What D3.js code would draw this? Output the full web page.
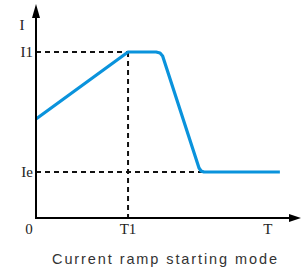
<!DOCTYPE html>
<html>
<head>
<meta charset="utf-8">
<script src="https://cdn.jsdelivr.net/npm/d3@7"></script>
<style>
  body { margin: 0; background: #fff; }
  .lbl { font-family: "Liberation Serif", "DejaVu Serif", serif; font-size: 15px; fill: #222; }
  .title { font-family: "Liberation Sans", Arial, sans-serif; font-size: 14.5px; fill: #333; }
</style>
</head>
<body>
<div id="chart"></div>
<script>
// current profile (time, current), arbitrary units
var time    = [0, 35.4, 46.2, 47.7, 48.7, 62.7, 63.5, 64.6, 93.8];
var current = [59.6, 100, 100, 99.4, 97.6, 30.1, 28.3, 27.7, 27.7];

var xTickLabels = ["0", "T1", "T"];
var xTickValues = [0, 35.4, 89.2];
var yTickLabels = ["Ie", "I1"];
var yTickValues = [27.7, 100];
var yAxisName = "I";
var T1 = 35.4, I1 = 100, Ie = 27.7, IeEnd = 71.5;
var title = "Current ramp starting mode";

var W = 302, H = 271;
var margin = {top: 4, right: 1, bottom: 53, left: 36};

var x = d3.scaleLinear().domain([0, 100]).range([margin.left, margin.left + 260]);
var y = d3.scaleLinear().domain([0, 100]).range([218, 52]);

var svg = d3.select("#chart").append("svg")
  .attr("width", W)
  .attr("height", H);

// dashed guide lines
var guides = [
  [[0, I1], [T1, I1]],
  [[T1, I1], [T1, 0]],
  [[0, Ie], [IeEnd, Ie]]
];
svg.selectAll(".guide")
  .data(guides)
  .enter()
  .append("line")
  .attr("class", "guide")
  .attr("x1", function(d) { return x(d[0][0]); })
  .attr("y1", function(d) { return y(d[0][1]); })
  .attr("x2", function(d) { return x(d[1][0]); })
  .attr("y2", function(d) { return y(d[1][1]); })
  .attr("stroke", "#111")
  .attr("stroke-width", 2)
  .attr("stroke-dasharray", "5,4");

// current curve
var line = d3.line()
  .x(function(d, i) { return x(time[i]); })
  .y(function(d, i) { return y(current[i]); });

svg.append("path")
  .datum(time)
  .attr("fill", "none")
  .attr("stroke", "#0a93dc")
  .attr("stroke-width", 3.2)
  .attr("stroke-linejoin", "round")
  .attr("d", line);

// axes
var x0 = x(0), y0 = y(0);
svg.append("line")
  .attr("x1", x0).attr("y1", y0 + 1)
  .attr("x2", x0).attr("y2", 14)
  .attr("stroke", "#000").attr("stroke-width", 2);
svg.append("line")
  .attr("x1", x0 - 1).attr("y1", y0)
  .attr("x2", 292).attr("y2", y0)
  .attr("stroke", "#000").attr("stroke-width", 2);

// arrow heads
svg.append("path")
  .attr("d", "M" + x0 + ",4 L" + (x0 - 4) + ",18 L" + (x0 + 4) + ",18 Z")
  .attr("fill", "#000");
svg.append("path")
  .attr("d", "M301," + y0 + " L289," + (y0 - 4) + " L289," + (y0 + 4) + " Z")
  .attr("fill", "#000");

// tick labels
svg.selectAll(".xt")
  .data(xTickLabels)
  .enter()
  .append("text")
  .attr("class", "lbl")
  .attr("x", function(d, i) { return x(xTickValues[i]) - (i == 0 ? 7 : 0); })
  .attr("y", 234)
  .attr("text-anchor", "middle")
  .text(function(d) { return d; });

svg.selectAll(".yt")
  .data(yTickLabels)
  .enter()
  .append("text")
  .attr("class", "lbl")
  .attr("x", 33)
  .attr("y", function(d, i) { return y(yTickValues[i]) + 5; })
  .attr("text-anchor", "end")
  .text(function(d) { return d; });

svg.append("text")
  .attr("class", "lbl")
  .attr("x", 22)
  .attr("y", 30)
  .attr("text-anchor", "middle")
  .text(yAxisName);

svg.append("text")
  .attr("class", "title")
  .attr("x", 52)
  .attr("y", 264)
  .attr("textLength", 225)
  .attr("lengthAdjust", "spacing")
  .text(title);
</script>
</body>
</html>
